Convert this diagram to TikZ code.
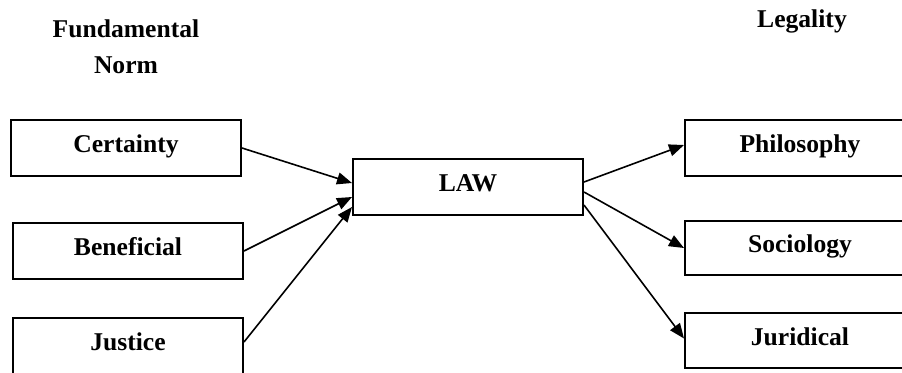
\documentclass[tikz,border=0pt]{standalone}
\usepackage{fontspec}
\setmainfont{Liberation Serif}
\usetikzlibrary{arrows.meta}

\begin{document}
\begin{tikzpicture}[x=0.5pt,y=-0.5pt,
	  box/.style={draw,line width=1pt,minimum width=115pt,minimum height=28pt,inner sep=0pt,
	    font=\fontsize{12.8}{15}\selectfont\bfseries,text height=0.68em,text depth=0.2em},
	  head/.style={font=\fontsize{12.8}{18}\selectfont\bfseries,align=center},
	  arr/.style={line width=0.8pt,-{Triangle[length=7.5pt,width=6pt]}}]
	  \useasboundingbox (0,0) rectangle (902,372);
	  \clip (0,0) rectangle (902,372);
	  % Headings
	  \node [head] (fund) at (126,47) {Fundamental\\Norm};
	  \node [head,anchor=base] (legal) at (802,27) {Legality};
	  % Boxes
	  \node [box] (cert) at (126,148) {Certainty};
	  \node [box] (benef) at (128,251) {Beneficial};
	  \node [box] (just) at (128,346) {Justice};
	  \node [box] (law) at (468,187) {LAW};
	  \node [box] (phil) at (800,148) {Philosophy};
	  \node [box,minimum height=27pt] (soc) at (800,248) {Sociology};
	  \node [box,minimum height=27.5pt] (jur) at (800,340.5) {Juridical};
	  % Arrows
	  \draw [arr] (cert.east) -- ([yshift=2pt]law.west);
	  \draw [arr] (benef.east) -- ([yshift=-5pt]law.west);
	  \draw [arr] ([yshift=2pt]just.east) -- ([yshift=-10pt]law.west);
	  \draw [arr] ([yshift=2.5pt]law.east) -- ([yshift=1.5pt]phil.west);
	  \draw [arr] ([yshift=-2.5pt]law.east) -- (soc.west);
	  \draw [arr] ([yshift=-9pt]law.east) -- ([yshift=1pt]jur.west);
	 \end{tikzpicture}
\end{document}
